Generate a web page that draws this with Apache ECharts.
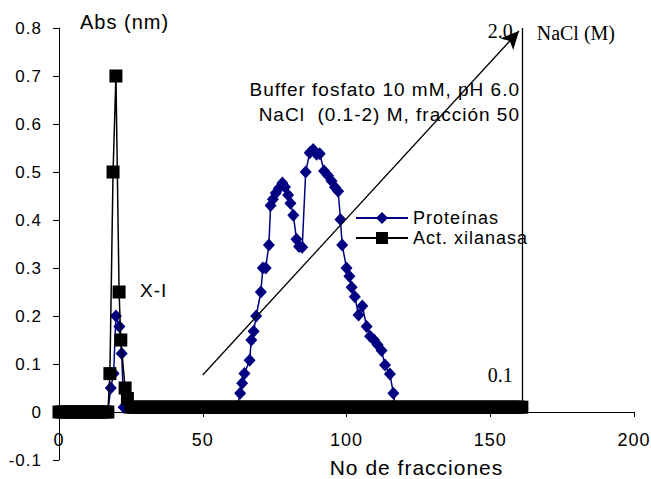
<!DOCTYPE html>
<html>
<head>
<meta charset="utf-8">
<script src="https://cdn.jsdelivr.net/npm/echarts@6/dist/echarts.min.js"></script>
<style>
html, body { margin: 0; padding: 0; background: #fff; }
#chart { width: 651px; height: 479px; }
#chart text { letter-spacing: 1px; white-space: pre; }
#chart text[style*="Liberation Serif"] { letter-spacing: 0; }
</style>
</head>
<body>
<div id="chart"></div>
<script>
// ---------- data ----------
const seriesNames = ['Proteínas', 'Act. xilanasa'];

// Proteínas (Abs) vs fracción
const protFrac = [17, 18, 19, 19.8, 21, 21.8, 22.5,
  62, 63, 63.7, 64.5, 66.3, 66.9, 67.7, 68.6,
  70.2, 70.9, 71.9, 73, 73.6, 74.4, 75.4, 76.5, 77.7, 78.6,
  79.7, 80.5, 81.5, 82.6, 83.5, 84.6, 85.8, 87.2, 88.4, 89.6,
  90.7, 92.2, 93.6, 94.8, 96, 97.1, 97.9, 98.5, 100, 101,
  101.8, 102.9, 104.2, 105.5, 107, 108.2, 109.6, 110.8, 112.2, 113.4,
  115.1, 116.3, 117];
const protAbs = [0, 0.05, 0.08, 0.2, 0.178, 0.122, 0.01,
  0.01, 0.039, 0.06, 0.08, 0.108, 0.15, 0.168, 0.2,
  0.25, 0.3, 0.3, 0.348, 0.43, 0.443, 0.456, 0.466, 0.477, 0.469,
  0.452, 0.435, 0.41, 0.36, 0.345, 0.343, 0.5, 0.54, 0.547, 0.537,
  0.538, 0.502, 0.492, 0.481, 0.468, 0.46, 0.401, 0.348, 0.3, 0.283,
  0.26, 0.24, 0.202, 0.221, 0.178, 0.158, 0.15, 0.14, 0.128, 0.098,
  0.079, 0.039, 0.01];

// Act. xilanasa: [fracción, Abs]
const xilanasa = [
  [0,0],[1,0],[2,0],[3,0],[4,0],[5,0],[6,0],[7,0],[8,0],[9,0],
  [10,0],[11,0],[12,0],[13,0],[14,0],[15,0],[16,0],[17,0],
  [17.7,0.08],[18.8,0.5],[19.8,0.7],[20.9,0.25],[21.5,0.15],[23,0.05],[23.8,0.028],
  [25,0.01],[26,0.01],[27,0.01],[28,0.01],[29,0.01],[30,0.01],[31,0.01],[32,0.01],[33,0.01],[34,0.01],
  [35,0.01],[36,0.01],[37,0.01],[38,0.01],[39,0.01],[40,0.01],[41,0.01],[42,0.01],[43,0.01],[44,0.01],
  [45,0.01],[46,0.01],[47,0.01],[48,0.01],[49,0.01],[50,0.01],[51,0.01],[52,0.01],[53,0.01],[54,0.01],
  [55,0.01],[56,0.01],[57,0.01],[58,0.01],[59,0.01],[60,0.01],[61,0.01],[62,0.01],[63,0.01],[64,0.01],
  [65,0.01],[66,0.01],[67,0.01],[68,0.01],[69,0.01],[70,0.01],[71,0.01],[72,0.01],[73,0.01],[74,0.01],
  [75,0.01],[76,0.01],[77,0.01],[78,0.01],[79,0.01],[80,0.01],[81,0.01],[82,0.01],[83,0.01],[84,0.01],
  [85,0.01],[86,0.01],[87,0.01],[88,0.01],[89,0.01],[90,0.01],[91,0.01],[92,0.01],[93,0.01],[94,0.01],
  [95,0.01],[96,0.01],[97,0.01],[98,0.01],[99,0.01],[100,0.01],[101,0.01],[102,0.01],[103,0.01],[104,0.01],
  [105,0.01],[106,0.01],[107,0.01],[108,0.01],[109,0.01],[110,0.01],[111,0.01],[112,0.01],[113,0.01],[114,0.01],
  [115,0.01],[116,0.01],[117,0.01],[118,0.01],[119,0.01],[120,0.01],[121,0.01],[122,0.01],[123,0.01],[124,0.01],
  [125,0.01],[126,0.01],[127,0.01],[128,0.01],[129,0.01],[130,0.01],[131,0.01],[132,0.01],[133,0.01],[134,0.01],
  [135,0.01],[136,0.01],[137,0.01],[138,0.01],[139,0.01],[140,0.01],[141,0.01],[142,0.01],[143,0.01],[144,0.01],
  [145,0.01],[146,0.01],[147,0.01],[148,0.01],[149,0.01],[150,0.01],[151,0.01],[152,0.01],[153,0.01],[154,0.01],
  [155,0.01],[156,0.01],[157,0.01],[158,0.01],[159,0.01],[160,0.01],[161,0.01]
];

// NaCl gradient (M): from fracción 50 to end of run
const naclFrac = [50, 160];
const naclConc = [0.1, 2.0];
const gradientEndFrac = 161.3;

// axis ticks
const xMin = 0, xMax = 200, xStep = 50;
const yMin = -0.1, yMax = 0.8, yStep = 0.1;

// annotation texts
const texts = {
  buffer: 'Buffer fosfato 10 mM, pH 6.0',
  nacl: 'NaCl  (0.1-2) M, fracción 50',
  peak: 'X-I',
  yName: 'Abs (nm)',
  xName: 'No de fracciones',
  naclName: 'NaCl (M)'
};

// ---------- chart ----------
const SANS = 'Liberation Sans, Arial';
const SERIF = 'Liberation Serif, Times New Roman';

const chart = echarts.init(document.getElementById('chart'), null, { renderer: 'svg' });

chart.setOption({
  animation: false,
  backgroundColor: '#fff',
  grid: { left: 59, right: 17, top: 28, bottom: 19, containLabel: false, outerBoundsMode: 'none' },
  legend: {
    data: seriesNames,
    orient: 'vertical',
    left: 350,
    top: 204,
    itemWidth: 52,
    itemHeight: 15,
    itemGap: 2,
    selectedMode: false,
    textStyle: { fontFamily: SANS, fontSize: 18, color: '#000' }
  },
  xAxis: {
    type: 'value',
    min: xMin, max: xMax, interval: xStep,
    position: 'bottom',
    offset: -48,
    axisLine: { onZero: false, lineStyle: { color: '#000', width: 1 } },
    axisTick: { show: true, length: 5, lineStyle: { color: '#000' } },
    axisLabel: { margin: 19, fontFamily: SANS, fontSize: 18, color: '#000' },
    splitLine: { show: false },
    name: texts.xName,
    nameLocation: 'middle',
    nameGap: 45,
    nameTextStyle: { fontFamily: SANS, fontSize: 21, color: '#000', padding: [0, 0, 0, 140] }
  },
  yAxis: [
    {
      type: 'value',
      min: yMin, max: yMax, interval: yStep,
      axisLine: { show: true, onZero: false, lineStyle: { color: '#000', width: 1 } },
      axisTick: { show: true, length: 6, lineStyle: { color: '#000' } },
      axisLabel: { margin: 17, fontFamily: SANS, fontSize: 17, color: '#000' },
      splitLine: { show: false },
      name: texts.yName,
      nameLocation: 'end',
      nameGap: 6,
      nameTextStyle: { fontFamily: SANS, fontSize: 20, color: '#000', align: 'left', verticalAlign: 'middle', padding: [0, 0, 0, 21] }
    },
    {
      type: 'value',
      min: -0.36948, max: 2.01657,
      position: 'right',
      offset: -111.3,
      axisLine: { show: false, onZero: false },
      axisTick: { show: false },
      splitLine: { show: false },
      axisLabel: {
        inside: true, margin: 10,
        customValues: naclConc,
        formatter: v => v.toFixed(1),
        fontFamily: SERIF, fontSize: 20, color: '#000'
      },
      name: texts.naclName,
      nameLocation: 'end',
      nameGap: -5,
      nameTextStyle: { fontFamily: SERIF, fontSize: 20, color: '#000', align: 'left', verticalAlign: 'middle', padding: [0, 0, 0, 14] }
    }
  ],
  graphic: [
    { type: 'text', right: 651 - 520, top: 80, style: { text: texts.buffer, font: '19px ' + SANS, fill: '#000', textAlign: 'right' } },
    { type: 'text', right: 651 - 520, top: 105, style: { text: texts.nacl, font: '19px ' + SANS, fill: '#000', textAlign: 'right' } },
    { type: 'text', left: 140, top: 281, style: { text: texts.peak, font: '19px ' + SANS, fill: '#000' } }
  ],
  series: [
    {
      name: seriesNames[0],
      type: 'line',
      data: protFrac.map((f, i) => [f, protAbs[i]]),
      symbol: 'diamond',
      symbolSize: [12, 13],
      showAllSymbol: true,
      itemStyle: { color: '#000080' },
      lineStyle: { color: '#000080', width: 1.5 },
      emphasis: { disabled: true },
      z: 3
    },
    {
      name: seriesNames[1],
      type: 'line',
      data: xilanasa,
      symbol: 'rect',
      symbolSize: 13,
      showAllSymbol: true,
      itemStyle: { color: '#000' },
      lineStyle: { color: '#000', width: 1.5 },
      emphasis: { disabled: true },
      z: 4,
      markLine: {
        silent: true,
        symbol: ['none', 'none'],
        label: { show: false },
        lineStyle: { color: '#000', width: 1.3, type: 'solid' },
        data: [[{ coord: [gradientEndFrac, 0] }, { coord: [gradientEndFrac, yMax] }]]
      }
    },
    {
      name: 'NaCl',
      type: 'line',
      yAxisIndex: 1,
      data: naclFrac.map((f, i) => [f, naclConc[i]]),
      showSymbol: false,
      symbol: 'none',
      lineStyle: { opacity: 0 },
      emphasis: { disabled: true },
      z: 2,
      markLine: {
        silent: true,
        symbol: ['none', 'arrow'],
        symbolSize: [13, 18],
        label: { show: false },
        lineStyle: { color: '#000', width: 1.3, type: 'solid' },
        data: [[{ coord: [naclFrac[0], naclConc[0]] }, { coord: [naclFrac[1], naclConc[1]] }]]
      }
    }
  ]
});
</script>
</body>
</html>
